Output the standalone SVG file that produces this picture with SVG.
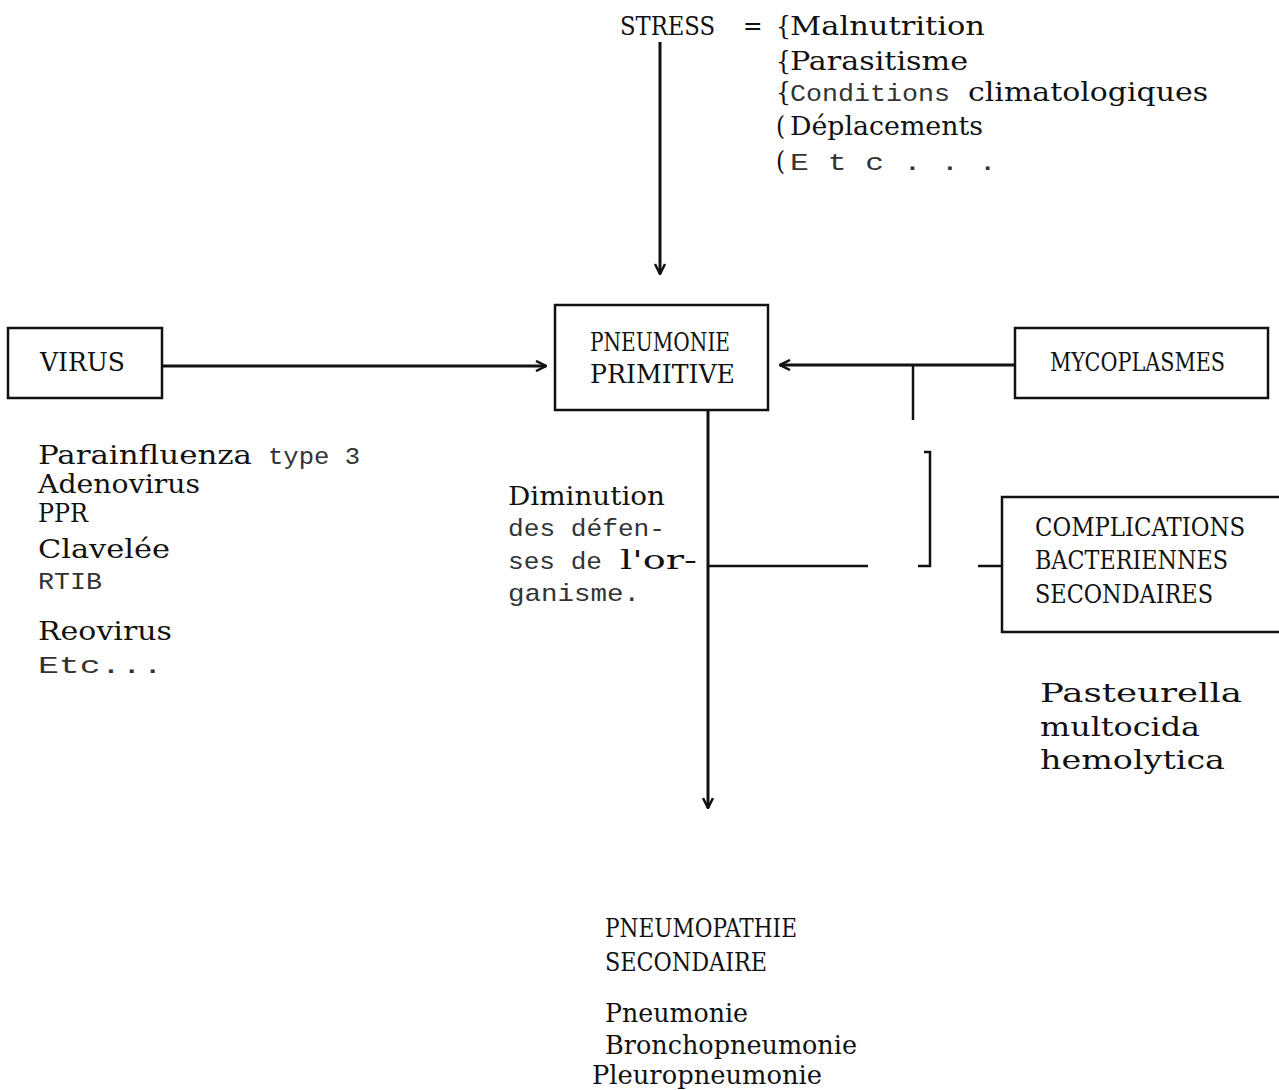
<svg xmlns="http://www.w3.org/2000/svg" width="1279" height="1090" viewBox="0 0 1279 1090">
<style>
  text { font-family: "DejaVu Serif Condensed", "DejaVu Serif", "Liberation Serif", serif; font-stretch: condensed; font-size: 26px; fill: #111; }
  .sm { font-family: "Liberation Mono", "DejaVu Sans Mono", monospace; font-stretch: normal; font-size: 24px; fill: #333; }
  .box { fill: none; stroke: #111; stroke-width: 2.5; }
  .ln { fill: none; stroke: #111; stroke-width: 3; }
  .thin { fill: none; stroke: #111; stroke-width: 2.5; }
</style>
<defs>
  <marker id="ah" viewBox="0 0 12 12" refX="11" refY="6" markerWidth="4" markerHeight="4" orient="auto" markerUnits="strokeWidth">
    <path d="M1,1 L11,6 L1,11" fill="none" stroke="#111" stroke-width="2.5"/>
  </marker>
</defs>
<rect width="1279" height="1090" fill="#fff"/>

<g id="stress">
  <text x="620" y="35" textLength="95" lengthAdjust="spacingAndGlyphs">STRESS</text>
  <text x="743" y="35">=</text>
  <text x="776" y="35">{</text>
  <text x="776" y="70">{</text>
  <text x="776" y="101">{</text>
  <text x="776" y="135">(</text>
  <text x="776" y="170">(</text>
  <text x="790" y="35" textLength="195" lengthAdjust="spacingAndGlyphs">Malnutrition</text>
  <text x="790" y="70" textLength="178" lengthAdjust="spacingAndGlyphs">Parasitisme</text>
  <text class="sm" x="790" y="101" textLength="160" lengthAdjust="spacingAndGlyphs">Conditions</text>
  <text x="968" y="101" textLength="240" lengthAdjust="spacingAndGlyphs">climatologiques</text>
  <text x="790" y="135" textLength="193" lengthAdjust="spacingAndGlyphs">Déplacements</text>
  <text class="sm" x="790" y="170" textLength="207" lengthAdjust="spacingAndGlyphs">E t c . . .</text>
</g>

<g id="virus">
  <rect class="box" x="8" y="328" width="154" height="70"/>
  <text x="40" y="371" textLength="85" lengthAdjust="spacingAndGlyphs">VIRUS</text>
</g>

<g id="virus-list">
  <text x="38" y="464" textLength="214" lengthAdjust="spacingAndGlyphs">Parainfluenza</text>
  <text class="sm" x="268" y="464" textLength="92" lengthAdjust="spacingAndGlyphs">type 3</text>
  <text x="38" y="493" textLength="162" lengthAdjust="spacingAndGlyphs">Adenovirus</text>
  <text x="38" y="522" textLength="50" lengthAdjust="spacingAndGlyphs">PPR</text>
  <text x="38" y="558" textLength="132" lengthAdjust="spacingAndGlyphs">Clavelée</text>
  <text class="sm" x="38" y="589" textLength="64" lengthAdjust="spacingAndGlyphs">RTIB</text>
  <text x="38" y="640" textLength="134" lengthAdjust="spacingAndGlyphs">Reovirus</text>
  <text class="sm" x="38" y="673" textLength="125" lengthAdjust="spacingAndGlyphs">Etc...</text>
</g>

<g id="pneumonie-primitive">
  <rect class="box" x="555" y="305" width="213" height="105"/>
  <text x="590" y="351" textLength="140" lengthAdjust="spacingAndGlyphs">PNEUMONIE</text>
  <text x="590" y="383" textLength="145" lengthAdjust="spacingAndGlyphs">PRIMITIVE</text>
</g>

<g id="mycoplasmes">
  <rect class="box" x="1015" y="328" width="253" height="70"/>
  <text x="1050" y="371" textLength="175" lengthAdjust="spacingAndGlyphs">MYCOPLASMES</text>
</g>

<g id="diminution">
  <text x="508" y="505" textLength="157" lengthAdjust="spacingAndGlyphs">Diminution</text>
  <text class="sm" x="508" y="536" textLength="157" lengthAdjust="spacingAndGlyphs">des défen-</text>
  <text class="sm" x="508" y="569" textLength="94" lengthAdjust="spacingAndGlyphs">ses de</text>
  <text x="620" y="569" textLength="77" lengthAdjust="spacingAndGlyphs">l'or-</text>
  <text class="sm" x="508" y="601" textLength="132" lengthAdjust="spacingAndGlyphs">ganisme.</text>
</g>

<g id="complications">
  <path class="box" d="M1279,497 H1002 V632 H1279"/>
  <text x="1035" y="536" textLength="210" lengthAdjust="spacingAndGlyphs">COMPLICATIONS</text>
  <text x="1035" y="569" textLength="193" lengthAdjust="spacingAndGlyphs">BACTERIENNES</text>
  <text x="1035" y="603" textLength="178" lengthAdjust="spacingAndGlyphs">SECONDAIRES</text>
</g>

<g id="pasteurella">
  <text x="1040" y="702" textLength="202" lengthAdjust="spacingAndGlyphs">Pasteurella</text>
  <text x="1040" y="736" textLength="160" lengthAdjust="spacingAndGlyphs">multocida</text>
  <text x="1040" y="769" textLength="185" lengthAdjust="spacingAndGlyphs">hemolytica</text>
</g>

<g id="pneumopathie-secondaire">
  <text x="605" y="937" textLength="192" lengthAdjust="spacingAndGlyphs">PNEUMOPATHIE</text>
  <text x="605" y="971" textLength="162" lengthAdjust="spacingAndGlyphs">SECONDAIRE</text>
  <text x="605" y="1022" textLength="143" lengthAdjust="spacingAndGlyphs">Pneumonie</text>
  <text x="605" y="1054" textLength="252" lengthAdjust="spacingAndGlyphs">Bronchopneumonie</text>
  <text x="592" y="1084" textLength="230" lengthAdjust="spacingAndGlyphs">Pleuropneumonie</text>
</g>

<g id="connectors">
  <line class="ln" x1="660" y1="42" x2="660" y2="274" marker-end="url(#ah)"/>
  <line class="ln" x1="162" y1="366" x2="546" y2="366" marker-end="url(#ah)"/>
  <line class="ln" x1="1015" y1="365" x2="780" y2="365" marker-end="url(#ah)"/>
  <line class="thin" x1="913" y1="365" x2="913" y2="420"/>
  <path class="thin" d="M924,452 H930 V566 H918"/>
  <line class="ln" x1="708" y1="410" x2="708" y2="808" marker-end="url(#ah)"/>
  <line class="thin" x1="708" y1="566" x2="868" y2="566"/>
  <line class="thin" x1="978" y1="566" x2="1002" y2="566"/>
</g>
</svg>
